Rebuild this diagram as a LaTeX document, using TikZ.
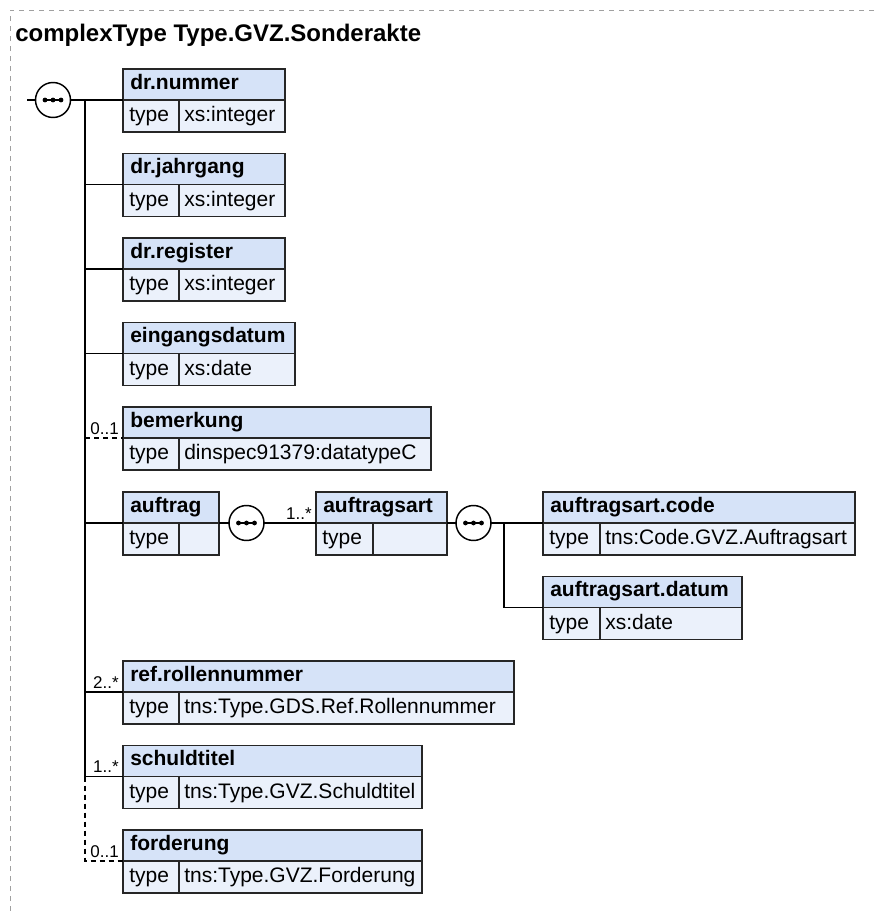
\documentclass[tikz,border=0pt]{standalone}
\usepackage{fontspec}
\setmainfont{Liberation Sans}
\definecolor{hdrfill}{HTML}{D6E3F8}
\definecolor{rowfill}{HTML}{EBF1FB}
\definecolor{boxline}{HTML}{262626}
\definecolor{framec}{HTML}{A0A0A0}
\tikzset{
 hdrtext/.style={anchor=base west, inner sep=0pt, font=\fontsize{15.75}{18}\selectfont\bfseries},
 rowtext/.style={anchor=base west, inner sep=0pt, font=\fontsize{15.75}{18}\selectfont},
 multtext/.style={anchor=base east, inner sep=0pt, font=\fontsize{12.75}{15}\selectfont},
 conn/.style={line width=1.05pt, draw=black},
 optconn/.style={conn, dash pattern=on 3.75pt off 3pt},
 boxstroke/.style={line width=1.15pt, draw=boxline},
 seqc/.style={circle, draw=black, fill=white, line width=1.1pt, minimum size=26.25pt, inner sep=0pt},
}
\newcommand\xelem[7]{%
 \fill[hdrfill] (#2,#3) rectangle (#5,#3+31);
 \fill[rowfill] (#2,#3+31) rectangle (#5,#3+63);
 \draw[boxstroke] (#2,#3) rectangle (#5,#3+63) (#2,#3+31) -- (#5,#3+31) (#4,#3+31) -- (#4,#3+63);
 \coordinate (#1) at (#2,#3+31);
 \coordinate (#1-e) at (#5,#3+31);
 \node[hdrtext] (#1-name) at (#2+7,#3+20) {#6};
 \node[rowtext] (#1-type) at (#2+6,#3+52.5) {type};
 \node[rowtext] (#1-val) at (#4+5,#3+52.5) {#7};
}
\newcommand\seqsym[3]{%
 \node[seqc] (#1) at (#2,#3) {};
 \draw[line width=1.1pt] (#2-8,#3) -- (#2+8,#3);
 \fill (#2-8,#3) circle (1.8pt) (#2,#3) circle (1.8pt) (#2+8,#3) circle (1.8pt);
}
\begin{document}
\begin{tikzpicture}[x=0.75pt, y=-0.75pt]
\useasboundingbox (0,0) rectangle (874,911);
\draw[framec, line width=0.75pt, dash pattern=on 3.75pt off 3.75pt] (10,911) -- (10,10) -- (874,10);
\node[anchor=base west, inner sep=0pt, font=\fontsize{18}{20}\selectfont\bfseries] (title) at (15,41) {complexType Type.GVZ.Sonderakte};

\xelem{nummer}{123}{69}{179}{285}{dr.nummer}{xs:integer}
\xelem{jahrgang}{123}{153.5}{179}{285}{dr.jahrgang}{xs:integer}
\xelem{register}{123}{238}{179}{285}{dr.register}{xs:integer}
\xelem{eingang}{123}{322.5}{179}{295}{eingangsdatum}{xs:date}
\xelem{bemerkung}{123}{407}{179}{431}{bemerkung}{dinspec91379:datatypeC}
\xelem{auftrag}{123}{492}{179}{219}{auftrag}{}
\xelem{auftragsart}{316}{492}{373}{447}{auftragsart}{}
\xelem{code}{543}{492}{600}{855}{auftragsart.code}{tns:Code.GVZ.Auftragsart}
\xelem{datum}{543}{576.5}{600}{742}{auftragsart.datum}{xs:date}
\xelem{rolle}{123}{661}{179}{514}{ref.rollennummer}{tns:Type.GDS.Ref.Rollennummer}
\xelem{schuld}{123}{745.5}{179}{422}{schuldtitel}{tns:Type.GVZ.Schuldtitel}
\xelem{forderung}{123}{830}{179}{422}{forderung}{tns:Type.GVZ.Forderung}

% main sequence
\coordinate (stub) at (27,100);
\coordinate (t0) at (85,100);
\draw[conn] (stub) -- (53,100);
\draw[conn] (53,100) -- (nummer);
\seqsym{seq1}{53}{100}
\draw[conn] (t0) |- (jahrgang);
\draw[conn] (t0) |- (register);
\draw[conn] (t0) |- (eingang);
\draw[conn] (t0) |- (auftrag);
\draw[conn] (t0) |- (rolle);
\draw[conn] (t0) |- (schuld);
\draw[optconn] (t0 |- bemerkung) -- (bemerkung);
\draw[optconn] (t0 |- schuld) |- (forderung);

% auftrag sequence
\draw[conn] (auftrag-e) -- (auftragsart);
\seqsym{seq2}{246.5}{523}
\draw[conn] (auftragsart-e) -- (code);
\seqsym{seq3}{473.5}{523}
\coordinate (b3) at (504,523);
\draw[conn] (b3) |- (datum);

% multiplicities
\node[multtext] (m-bem) at ([shift={(-4,-4)}]bemerkung) {0..1};
\node[multtext] (m-art) at ([shift={(-4,-4)}]auftragsart) {1..*};
\node[multtext] (m-rol) at ([shift={(-4,-4)}]rolle) {2..*};
\node[multtext] (m-sch) at ([shift={(-4,-4)}]schuld) {1..*};
\node[multtext] (m-for) at ([shift={(-4,-4)}]forderung) {0..1};
\end{tikzpicture}
\end{document}
